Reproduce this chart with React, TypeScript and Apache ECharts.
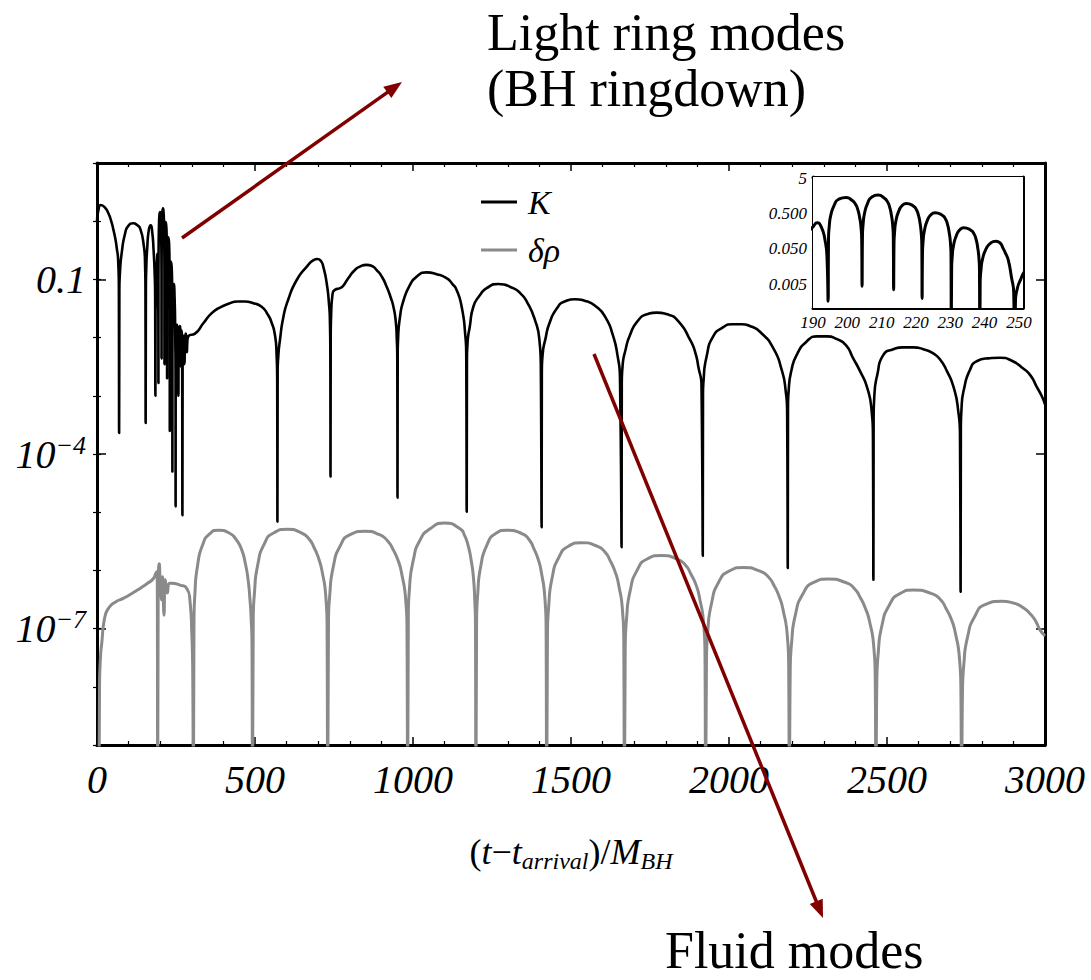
import React, { useEffect, useRef } from 'react';
import * as echarts from 'echarts';

// K(t): curvature perturbation, sampled along t - t_arrival (units of M_BH)
const kSeries: [number, number][] = [
  [0, 1.0], [5, 1.6], [12, 1.9], [24, 1.75], [36, 1.37], [45, 1.0], [52, 0.71], [58, 0.5], [62, 0.36], [67, 0.21], [69.2, 0.063], [70, 2.3e-4],
  [70.8, 0.063], [73, 0.14], [78, 0.28], [89, 0.62], [99, 0.83], [115, 0.92], [128, 0.85], [136, 0.76], [147, 0.42], [152, 0.19], [153.3, 0.063], [154, 3.4e-4],
  [154.7, 0.063], [156, 0.16], [159, 0.35], [164, 0.71], [170, 0.85], [175, 0.63], [179, 0.32], [182.5, 0.126], [184, 0.05], [184.8, 1e-3],
  [185.2, 0.025], [186, 0.04], [187.5, 0.1], [189, 0.166], [190, 0.21], [191.2, 0.275], [192.4, 0.21], [193.5, 0.089], [194.1, 0.025], [194.4, 1.66e-3],
  [194.52, 0.09], [194.75, 0.226], [195.19, 0.45], [196.18, 0.86], [197.37, 1.25], [199.7, 1.43], [201.33, 1.19], [202.32, 0.945], [203.01, 0.67], [203.56, 0.4], [204.0, 0.2], [204.2, 0.08], [204.3, 4.4e-3],
  [204.41, 0.105], [204.62, 0.26], [205.04, 0.52], [205.96, 1.0], [207.06, 1.45], [209, 1.66], [210.74, 1.38], [211.66, 1.1], [212.3, 0.78], [212.81, 0.47], [213.22, 0.234], [213.41, 0.093], [213.5, 3.5e-3],
  [213.6, 0.061], [213.79, 0.153], [214.16, 0.307], [214.99, 0.585], [215.99, 0.845], [217.2, 0.97], [219.31, 0.807], [220.14, 0.641], [220.72, 0.454], [221.18, 0.274], [221.55, 0.137], [221.72, 0.054], [221.8, 2.0e-3],
  [221.9, 0.033], [222.1, 0.084], [222.48, 0.167], [223.33, 0.32], [224.35, 0.46], [225.5, 0.53], [227.75, 0.44], [228.6, 0.35], [229.2, 0.248], [229.66, 0.15], [230.05, 0.075], [230.22, 0.03], [230.3, 2.5e-4],
  [230.4, 0.0126], [230.59, 0.0316], [230.96, 0.063], [231.79, 0.12], [232.79, 0.174], [233.9, 0.2], [236.11, 0.166], [236.94, 0.132], [237.52, 0.094], [237.98, 0.056], [238.35, 0.028], [238.52, 0.011], [238.6, 5e-5],
  [238.72, 0.0052], [238.96, 0.0131], [239.42, 0.026], [240.44, 0.05], [241.66, 0.072], [243.3, 0.083], [244.5, 0.074], [245.4, 0.052], [246.2, 0.036], [246.9, 0.0245], [247.8, 0.0083], [248.5, 0.0028], [248.8, 1.26e-5],
  [249, 1.6e-3], [249.6, 4e-3], [250.5, 6.8e-3], [251.5, 0.011], [253, 0.0166], [255, 0.014], [256.8, 5e-3], [257.5, 1e-3], [258.5, 6.3e-3], [260, 0.0126], [262, 0.0158], [264, 0.0112], [265.5, 3.2e-3],
  [266.5, 7.9e-3], [268, 0.0132], [269.5, 5e-3], [270.3, 8.9e-6], [271, 4e-3], [273, 0.0107], [275, 7.9e-3], [276.8, 3.5e-3], [278.5, 7.9e-3], [281, 0.0117], [283, 8.9e-3], [284.5, 5.6e-3], [286, 8.9e-3], [290, 0.0107],
  [310, 0.0117], [337, 0.0178], [363, 0.0263], [390, 0.0331], [416, 0.038], [445, 0.0417], [468, 0.0417], [495, 0.0389], [521, 0.0339], [540, 0.0251], [553, 0.0178], [563, 0.0112], [568, 5.6e-3], [570.3, 1.58e-3], [571, 6.9e-6],
  [571.7, 2.5e-3], [574, 5e-3], [579, 9.1e-3], [590, 0.0229], [605, 0.0447], [632, 0.0977], [664, 0.166], [685, 0.214], [697, 0.224], [708, 0.209], [716, 0.166], [727, 0.0851], [734, 0.0389], [737, 0.02], [738.4, 5e-3], [739, 4.1e-5],
  [739.6, 0.01], [741, 0.0251], [745.7, 0.0575], [753, 0.066], [769, 0.0708], [779, 0.0776], [795, 0.105], [816, 0.145], [832, 0.166], [853, 0.178], [870, 0.17], [885, 0.145], [902, 0.11], [917, 0.0741], [930, 0.0479], [938, 0.0339], [945, 0.02], [948.5, 0.01], [950.3, 3.98e-3], [951, 1.78e-5],
  [951.6, 5e-3], [953, 0.01], [959, 0.0229], [969, 0.0417], [990, 0.0794], [1012, 0.112], [1043, 0.132], [1075, 0.123], [1106, 0.105], [1125, 0.0832], [1138, 0.066], [1154, 0.0339], [1165, 0.0117], [1168.5, 5e-3], [1170, 1.02e-5],
  [1170.7, 3.98e-3], [1172.5, 7.9e-3], [1180, 0.0158], [1191, 0.0339], [1212, 0.0537], [1233, 0.0708], [1270, 0.0832], [1317, 0.0708], [1340, 0.0575], [1360, 0.0417], [1386, 0.02], [1400, 9.1e-3], [1404.5, 3.16e-3], [1407, 5.5e-6],
  [1407.7, 2.5e-3], [1410, 5e-3], [1420, 0.01], [1432, 0.0178], [1455, 0.0316], [1480, 0.0417], [1513, 0.0457], [1545, 0.0427], [1580, 0.0339], [1610, 0.0219], [1632, 0.0112], [1647, 5e-3], [1655, 2e-3], [1660, 2.5e-6],
  [1660.7, 1.58e-3], [1663, 3.16e-3], [1673, 6.3e-3], [1687, 0.0112], [1710, 0.019], [1740, 0.0251], [1771, 0.0269], [1805, 0.0251], [1840, 0.019], [1877, 9.1e-3], [1893, 5.6e-3], [1903, 3.16e-3], [1913, 1.45e-3], [1917, 1.78e-6],
  [1917.7, 1e-3], [1920, 2e-3], [1929, 4.7e-3], [1950, 0.0105], [1982, 0.0151], [2010, 0.017], [2040, 0.017], [2070, 0.0155], [2098, 0.0126], [2140, 6.6e-3], [2167, 2.75e-3], [2179, 1.26e-3], [2184, 5e-4], [2186, 1.1e-6],
  [2186.7, 6.3e-4], [2189, 1.26e-3], [2198, 2.8e-3], [2214, 5e-3], [2245, 8.5e-3], [2280, 0.0105], [2311, 0.0105], [2340, 9.5e-3], [2370, 7.4e-3], [2393, 4.4e-3], [2415, 2.63e-3], [2436, 1.45e-3], [2451, 5.75e-4], [2455.5, 2e-4], [2457, 6.9e-7],
  [2457.7, 4e-4], [2460, 1e-3], [2470, 2.4e-3], [2488, 5e-3], [2520, 6.3e-3], [2550, 6.8e-3], [2584, 6.8e-3], [2615, 6.3e-3], [2645, 5.4e-3], [2668, 4.2e-3], [2690, 2.63e-3], [2710, 1.45e-3], [2725, 5.75e-4], [2731, 2e-4], [2733, 4.3e-7],
  [2733.7, 2.5e-4], [2736, 6.3e-4], [2745, 1.41e-3], [2762, 2.75e-3], [2783, 3.9e-3], [2820, 4.4e-3], [2858, 4.5e-3], [2895, 4e-3], [2931, 2.95e-3], [2955, 2.2e-3], [2973, 1.45e-3], [2990, 9.8e-4], [3000, 7.1e-4],
];

// δρ(t): fluid density perturbation on the same time grid
const rhoSeries: [number, number][] = [
  [6, 1e-10], [8, 1e-8], [11, 3.2e-8], [15, 5.6e-8], [25, 1.6e-7], [41, 2.4e-7], [60, 2.9e-7], [83, 3.3e-7], [110, 4.0e-7], [136, 4.9e-7], [160, 6.0e-7], [178, 7.2e-7], [186, 8.9e-7], [189, 9.5e-7],
  [191, 3e-7], [192, 1e-10], [193.5, 3e-7], [197, 1.3e-6], [201, 5e-7], [205, 3.1e-7], [208, 7.8e-7], [212, 1.7e-7], [216, 6.9e-7], [222.5, 4.1e-7], [229, 6.0e-7], [236, 6.0e-7], [263, 5.6e-7], [284, 4.9e-7], [294, 3.1e-7], [300, 8.3e-8], [303, 1.5e-8], [305, 1e-10],
  [306.9, 1.2e-7], [310.2, 4.3e-7], [318.1, 1.2e-6], [333.8, 2.7e-6], [357.4, 4.3e-6], [384, 4.9e-6], [421, 4.3e-6], [440, 3.4e-6], [458, 2.25e-6], [469.6, 1.3e-6], [478, 7e-7], [484, 3.2e-7], [487.5, 1.6e-7], [490.5, 5e-8], [492, 1e-10],
  [494.4, 1.3e-7], [498.7, 4.4e-7], [508.7, 1.25e-6], [528.7, 2.8e-6], [558.6, 4.4e-6], [603, 5.1e-6], [646.7, 4.4e-6], [670.5, 3.5e-6], [687.2, 2.45e-6], [701.4, 1.6e-6], [712.2, 9.7e-7], [724.3, 3.4e-7], [728.1, 1.0e-7], [730, 1e-10],
  [732.5, 1.2e-7], [737.1, 4.1e-7], [747.7, 1.15e-6], [769, 2.6e-6], [800.8, 4.1e-6], [848, 4.7e-6], [894.5, 4.1e-6], [919.8, 3.2e-6], [937.5, 2.25e-6], [952.6, 1.5e-6], [964, 8.9e-7], [976.9, 3.1e-7], [981, 9.4e-8], [983, 1e-10],
  [985.2, 1.6e-7], [989, 5.0e-7], [1001, 1.5e-6], [1022, 3.3e-6], [1054, 5.2e-6], [1101, 6.5e-6], [1149, 5.2e-6], [1163, 4.0e-6], [1175, 2.6e-6], [1184, 1.5e-6], [1191, 7.8e-7], [1195.5, 3e-7], [1197.8, 1e-7], [1199, 1e-10],
  [1201.2, 1.2e-7], [1205.3, 4.3e-7], [1214.7, 1.2e-6], [1233.5, 2.7e-6], [1261.7, 4.3e-6], [1296, 4.9e-6], [1344.6, 4.3e-6], [1367, 3.4e-6], [1382.7, 2.35e-6], [1396.1, 1.55e-6], [1406.2, 9.3e-7], [1417.6, 3.2e-7], [1421.2, 9.8e-8], [1423, 1e-10],
  [1425.5, 7.5e-8], [1429.9, 2.6e-7], [1440.2, 7.4e-7], [1460.9, 1.65e-6], [1491.9, 2.6e-6], [1532, 3.0e-6], [1582.9, 2.6e-6], [1607.5, 2.07e-6], [1624.7, 1.44e-6], [1639.5, 9.5e-7], [1650.6, 5.7e-7], [1663.1, 2.0e-7], [1667, 6.0e-8], [1669, 1e-10],
  [1671.6, 4.5e-8], [1676.2, 1.57e-7], [1687, 4.4e-7], [1708.6, 9.9e-7], [1741, 1.57e-6], [1785, 1.8e-6], [1836, 1.57e-6], [1861.8, 1.24e-6], [1879.7, 8.6e-7], [1895.2, 5.7e-7], [1906.7, 3.4e-7], [1919.8, 1.19e-7], [1924, 3.6e-8], [1926, 1e-10],
  [1928.7, 2.8e-8], [1933.4, 9.7e-8], [1944.6, 2.7e-7], [1966.8, 6.2e-7], [2000.2, 9.7e-7], [2045, 1.12e-6], [2098.3, 9.7e-7], [2124.8, 7.7e-7], [2143.3, 5.4e-7], [2159.2, 3.5e-7], [2171.1, 2.1e-7], [2184.6, 7.4e-8], [2188.9, 2.2e-8], [2191, 1e-10],
  [2193.7, 1.8e-8], [2198.7, 6.2e-8], [2210.2, 1.74e-7], [2233.2, 3.9e-7], [2267.7, 6.2e-7], [2314, 7.1e-7], [2369.1, 6.2e-7], [2396.5, 4.9e-7], [2415.7, 3.4e-7], [2432.1, 2.2e-7], [2444.5, 1.35e-7], [2458.4, 4.7e-8], [2462.8, 1.4e-8], [2465, 1e-10],
  [2467.7, 1.15e-8], [2472.6, 4.0e-8], [2484, 1.13e-7], [2506.7, 2.5e-7], [2540.9, 4.0e-7], [2583, 4.6e-7], [2641.2, 4.0e-7], [2668.3, 3.2e-7], [2687.2, 2.2e-7], [2703.5, 1.45e-7], [2715.7, 8.7e-8], [2729.5, 3.0e-8], [2733.8, 9.2e-9], [2736, 1e-10],
  [2738.7, 7.4e-9], [2743.6, 2.6e-8], [2755, 7.2e-8], [2777.7, 1.62e-7], [2812, 2.6e-7], [2863, 2.95e-7], [2900, 2.75e-7], [2930, 2.3e-7], [2955, 1.75e-7], [2972, 1.3e-7], [2984, 9.5e-8], [3000, 7.5e-8],
];

const mainYLabelValues = [1e-7, 1e-4, 0.1];
const decadeValues = [1e-9, 1e-8, 1e-7, 1e-6, 1e-5, 1e-4, 1e-3, 1e-2, 0.1, 1, 10];
const insetYLabelValues = [0.005, 0.05, 0.5, 5];

const SERIF = "'Liberation Serif', 'DejaVu Serif', serif";
const ARROW_RED = '#800000';

function arrow(x1: number, y1: number, x2: number, y2: number) {
  const dx = x2 - x1;
  const dy = y2 - y1;
  const len = Math.hypot(dx, dy);
  const ux = dx / len;
  const uy = dy / len;
  const headLen = 18;
  const headHalf = 7;
  const bx = x2 - ux * headLen;
  const by = y2 - uy * headLen;
  return [
    {
      type: 'line',
      silent: true,
      z: 100,
      shape: { x1, y1, x2: bx + ux * 4, y2: by + uy * 4 },
      style: { stroke: ARROW_RED, lineWidth: 3.5 },
    },
    {
      type: 'polygon',
      silent: true,
      z: 100,
      shape: {
        points: [
          [x2, y2],
          [bx - uy * headHalf, by + ux * headHalf],
          [bx + uy * headHalf, by - ux * headHalf],
        ],
      },
      style: { fill: ARROW_RED },
    },
  ];
}

const frameLine = (width: number) => ({ show: true, onZero: false, lineStyle: { color: '#000', width } });

export default function App() {
  const ref = useRef<HTMLDivElement>(null);

  useEffect(() => {
    if (!ref.current) return;
    const chart = echarts.init(ref.current, undefined, { renderer: 'svg' });

    const mainYFormatter = (v: number) => {
      if (Math.abs(v - 0.1) < 1e-12) return '{n|0.1}';
      const e = Math.round(Math.log10(v));
      return `{n|10}{sup|−${-e}}`;
    };

    const curve = (color: string, width: number) => ({
      type: 'line',
      symbol: 'none',
      showSymbol: false,
      clip: true,
      smooth: 0.6,
      lineStyle: { color, width, join: 'round' },
      itemStyle: { color },
    });

    const option: any = {
      animation: false,
      backgroundColor: '#fff',
      grid: [
        { left: 97, top: 163, width: 948, height: 582, containLabel: false },
        { left: 813, top: 177, width: 210, height: 131, containLabel: false, show: true, backgroundColor: '#fff', borderWidth: 0, z: 5 },
      ],
      legend: {
        data: ['K', 'δρ'],
        orient: 'vertical',
        left: 476,
        top: 180,
        itemWidth: 36,
        itemHeight: 3,
        itemGap: 14,
        icon: 'rect',
        selectedMode: false,
        textStyle: { fontFamily: SERIF, fontStyle: 'italic', fontSize: 34, color: '#000', padding: [0, 0, 0, 6] },
      },
      xAxis: [
        {
          gridIndex: 0,
          type: 'value',
          min: 0,
          max: 3000,
          interval: 500,
          position: 'bottom',
          axisLine: frameLine(3),
          axisTick: { show: true, inside: true, length: 8, lineStyle: { color: '#000', width: 1.5 } },
          minorTick: { show: true, splitNumber: 5, length: 4, lineStyle: { color: '#000', width: 1.2 } },
          splitLine: { show: false },
          axisLabel: {
            fontFamily: SERIF, fontStyle: 'italic', fontSize: 40, color: '#000', margin: 14,
            showMinLabel: true, showMaxLabel: true,
            formatter: (v: number) => String(v),
          },
          name: '{p|(}{i|t}{p|−}{i|t}{s|arrival}{p|)/}{i|M}{s|BH}',
          nameLocation: 'middle',
          nameGap: 86,
          nameTextStyle: {
            rich: {
              p: { fontFamily: SERIF, fontSize: 36, color: '#000', lineHeight: 42 },
              i: { fontFamily: SERIF, fontStyle: 'italic', fontSize: 36, color: '#000', lineHeight: 42 },
              s: { fontFamily: SERIF, fontStyle: 'italic', fontSize: 24, color: '#000', lineHeight: 22, verticalAlign: 'bottom' },
            },
          },
        },
        {
          gridIndex: 0,
          type: 'value',
          min: 0,
          max: 3000,
          interval: 500,
          position: 'top',
          axisLine: frameLine(3),
          axisTick: { show: true, inside: true, length: 8, lineStyle: { color: '#000', width: 1.5 } },
          minorTick: { show: true, splitNumber: 5, length: 4, lineStyle: { color: '#000', width: 1.2 } },
          splitLine: { show: false },
          axisLabel: { show: false },
        },
        {
          gridIndex: 1,
          type: 'value',
          min: 190,
          max: 251.2,
          interval: 10,
          position: 'bottom',
          axisLine: frameLine(3),
          axisTick: { show: true, inside: true, length: 4, lineStyle: { color: '#000', width: 1.5 } },
          splitLine: { show: false },
          axisLabel: { fontFamily: SERIF, fontStyle: 'italic', fontSize: 17, color: '#000', margin: 6 },
        },
        {
          gridIndex: 1,
          type: 'value',
          min: 190,
          max: 251.2,
          interval: 10,
          position: 'top',
          axisLine: frameLine(3),
          axisTick: { show: true, inside: true, length: 4, lineStyle: { color: '#000', width: 1.5 } },
          splitLine: { show: false },
          axisLabel: { show: false },
        },
      ],
      yAxis: [
        {
          gridIndex: 0,
          type: 'log',
          logBase: 10,
          min: 1e-9,
          max: 10,
          position: 'left',
          axisLine: frameLine(3),
          axisTick: { show: true, inside: true, length: 9, customValues: mainYLabelValues, lineStyle: { color: '#000', width: 1.5 } },
          splitLine: { show: false },
          axisLabel: {
            customValues: mainYLabelValues,
            formatter: mainYFormatter,
            margin: 11,
            rich: {
              n: { fontFamily: SERIF, fontStyle: 'italic', fontSize: 40, color: '#000', lineHeight: 44 },
              sup: { fontFamily: SERIF, fontStyle: 'italic', fontSize: 26, color: '#000', lineHeight: 26, verticalAlign: 'top' },
            },
          },
        },
        {
          gridIndex: 0,
          type: 'log',
          logBase: 10,
          min: 1e-9,
          max: 10,
          position: 'left',
          axisLine: { show: false },
          axisTick: { show: true, inside: true, length: 4, customValues: decadeValues, lineStyle: { color: '#000', width: 1.2 } },
          splitLine: { show: false },
          axisLabel: { show: false },
        },
        {
          gridIndex: 0,
          type: 'log',
          logBase: 10,
          min: 1e-9,
          max: 10,
          position: 'right',
          axisLine: frameLine(3),
          axisTick: { show: true, inside: true, length: 9, customValues: mainYLabelValues, lineStyle: { color: '#000', width: 1.5 } },
          splitLine: { show: false },
          axisLabel: { show: false },
        },
        {
          gridIndex: 0,
          type: 'log',
          logBase: 10,
          min: 1e-9,
          max: 10,
          position: 'right',
          axisLine: { show: false },
          axisTick: { show: true, inside: true, length: 4, customValues: decadeValues, lineStyle: { color: '#000', width: 1.2 } },
          splitLine: { show: false },
          axisLabel: { show: false },
        },
        {
          gridIndex: 1,
          type: 'log',
          logBase: 10,
          min: 0.00107,
          max: 5.4,
          position: 'left',
          axisLine: frameLine(3),
          axisTick: { show: true, inside: true, length: 4, customValues: insetYLabelValues, lineStyle: { color: '#000', width: 1.5 } },
          splitLine: { show: false },
          axisLabel: {
            customValues: insetYLabelValues,
            formatter: (v: number) => (v >= 5 ? '5' : v.toFixed(3)),
            fontFamily: SERIF,
            fontStyle: 'italic',
            fontSize: 17,
            color: '#000',
            margin: 6,
          },
        },
        {
          gridIndex: 1,
          type: 'log',
          logBase: 10,
          min: 0.00107,
          max: 5.4,
          position: 'right',
          axisLine: frameLine(3),
          axisTick: { show: false },
          splitLine: { show: false },
          axisLabel: { show: false },
        },
      ],
      series: [
        { ...curve('#8a8a8a', 3), name: 'δρ', data: rhoSeries, xAxisIndex: 0, yAxisIndex: 0, z: 2 },
        { ...curve('#000', 2.6), name: 'K', data: kSeries, xAxisIndex: 0, yAxisIndex: 0, z: 3 },
        { ...curve('#000', 3), name: 'K (inset)', data: kSeries, xAxisIndex: 2, yAxisIndex: 4, z: 6 },
      ],
      graphic: [
        {
          type: 'text',
          left: 487,
          top: 4,
          silent: true,
          z: 100,
          style: { text: 'Light ring modes\n(BH ringdown)', fontFamily: SERIF, fontSize: 52, lineHeight: 56, fill: '#000' },
        },
        {
          type: 'text',
          left: 665,
          top: 922,
          silent: true,
          z: 100,
          style: { text: 'Fluid modes', fontFamily: SERIF, fontSize: 52, lineHeight: 56, fill: '#000' },
        },
        ...arrow(182, 238, 402, 82),
        ...arrow(594, 354, 823, 918),
      ],
    };

    chart.setOption(option);
    return () => chart.dispose();
  }, []);

  return <div ref={ref} style={{ position: 'absolute', left: 0, top: 0, width: 1091, height: 980 }} />;
}
